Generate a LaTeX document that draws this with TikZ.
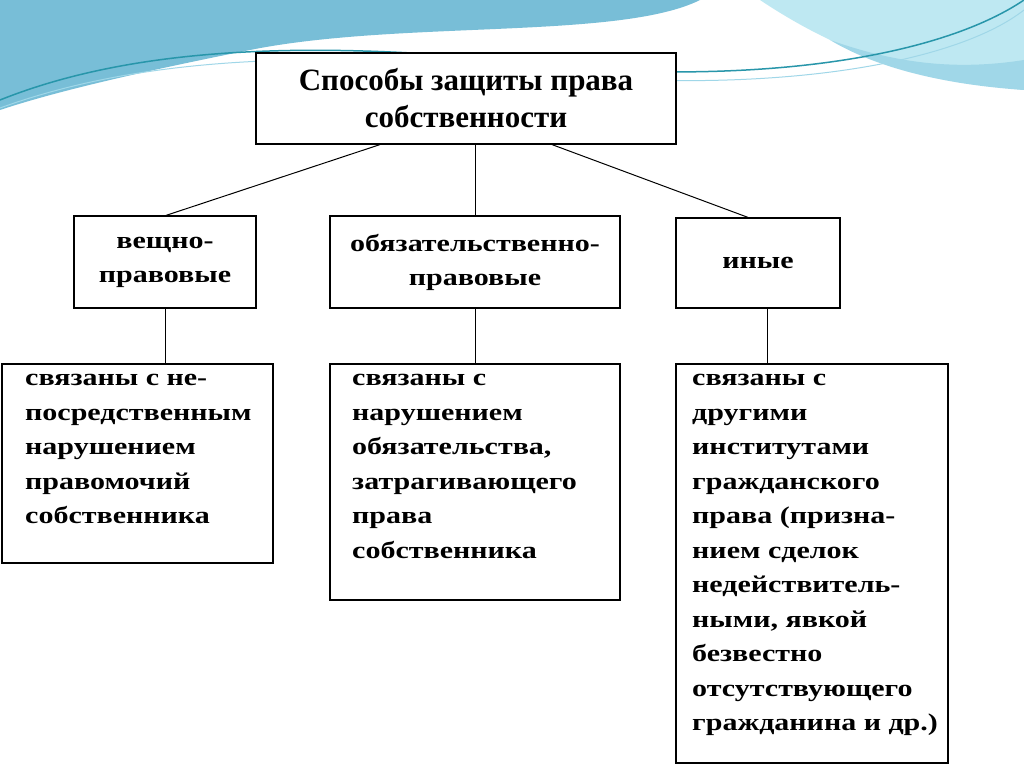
\documentclass[tikz,border=0pt]{standalone}
\usepackage{fontspec}
\setmainfont{Liberation Serif}
\newfontfamily\widefont[FakeStretch=1.25]{Liberation Serif}
\definecolor{waveA}{RGB}{120,190,215}
\definecolor{waveB}{RGB}{160,215,232}
\definecolor{waveC}{RGB}{190,232,242}
\definecolor{waveL}{RGB}{40,150,170}
\begin{document}
\begin{tikzpicture}[x=1pt,y=-1pt,
  bx/.style={draw,line width=1.2pt,fill=white,inner sep=0pt},
  txt/.style={font=\widefont\bfseries\fontsize{24}{34.5}\selectfont,align=left,anchor=north west,inner sep=0pt},
  mid/.style={font=\widefont\bfseries\fontsize{24}{34}\selectfont,align=center},
  ln/.style={line width=1pt}]
\useasboundingbox (0,0) rectangle (1024,767);
\fill[white] (0,0) rectangle (1024,767);
% background waves
\fill[waveA] (0,0) -- (700,0) .. controls (620,40) and (400,20) .. (250,50) .. controls (150,70) and (60,90) .. (0,110) -- cycle;
\fill[waveC] (760,0) -- (1024,0) -- (1024,90) .. controls (930,80) and (850,60) .. (760,0) -- cycle;
\fill[waveB] (830,40) .. controls (900,65) and (960,70) .. (1024,60) -- (1024,90) .. controls (950,85) and (880,70) .. (830,40) -- cycle;
\draw[waveL,line width=1.5pt] (0,100) .. controls (150,40) and (350,40) .. (600,70) .. controls (800,80) and (950,50) .. (1024,0);
\draw[waveB,line width=1pt] (0,108) .. controls (160,50) and (360,50) .. (600,78) .. controls (800,90) and (960,60) .. (1024,10);
% boxes
\node[bx,minimum width=420,minimum height=91] (t) at (466,98.5) {};
\node[font=\bfseries\fontsize{31}{37}\selectfont,align=center] at (t) {Способы защиты права\\собственности};
\node[bx,minimum width=182,minimum height=92] (a) at (165,262) {};
\node[mid] at (a) {вещно-\\правовые};
\node[bx,minimum width=290,minimum height=92] (b) at (475,262) {};
\node[mid] at (b) {обязательственно-\\правовые};
\node[bx,minimum width=164,minimum height=90] (c) at (758,263) {};
\node[mid] at (c) {иные};
\node[bx,minimum width=271,minimum height=199] (d) at (137.5,463.5) {};
\node[txt] at (25,374) {связаны с не-\\посредственным\\нарушением\\правомочий\\собственника};
\node[bx,minimum width=290,minimum height=236] (e) at (475,482) {};
\node[txt] at (352,374) {связаны с\\нарушением\\обязательства,\\затрагивающего\\права\\собственника};
\node[bx,minimum width=272,minimum height=399] (f) at (812,563.5) {};
\node[txt] at (692,374) {связаны с\\другими\\институтами\\гражданского\\права (призна-\\нием сделок\\недействитель-\\ными, явкой\\безвестно\\отсутствующего\\гражданина и др.)};
% connectors
\draw[ln] (t.south -| 380,0) -- (a.north -| 166,0);
\draw[ln] (t.south -| b.north) -- (b.north);
\draw[ln] (t.south -| 552,0) -- (c.north -| 748,0);
\draw[ln] (a.south -| 165,0) -- (d.north -| 165,0);
\draw[ln] (b.south) -- (e.north);
\draw[ln] (c.south -| 767,0) -- (f.north -| 767,0);
\end{tikzpicture}
\end{document}
